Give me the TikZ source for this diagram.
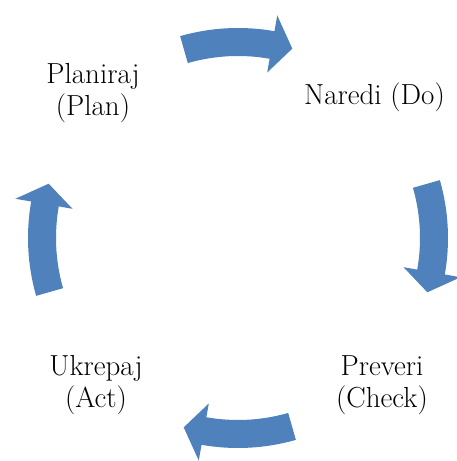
\documentclass[tikz,border=0pt]{standalone}
\definecolor{cycleblue}{RGB}{79,129,189}
\newcommand{\cyclelabelfont}{\fontsize{29}{31}\selectfont}
\begin{document}
\begin{tikzpicture}[x=1pt,y=1pt,
  cyclearrow/.style={fill=cycleblue, draw=none},
  steplabel/.style={font=\cyclelabelfont, inner sep=0pt}]
\useasboundingbox (0,0) rectangle (456,461);
\coordinate (hub) at (238,223);
% curved block arrow: centre angle #1, running clockwise
\newcommand{\cyclearrowat}[1]{%
  \begin{scope}[shift={(hub)}]
    \pgfmathsetmacro{\arrtail}{#1+16}
    \pgfmathsetmacro{\arrneck}{#1-10}
    \pgfmathsetmacro{\arrtip}{#1-16}
    \fill[cyclearrow] (\arrtail:210)
      arc[start angle=\arrtail, end angle=\arrneck, radius=210]
      -- (\arrneck:226) -- (\arrtip:197) -- (\arrneck:168) -- (\arrneck:182)
      arc[start angle=\arrneck, end angle=\arrtail, radius=182] -- cycle;
  \end{scope}}
\cyclearrowat{90}
\cyclearrowat{0}
\cyclearrowat{-90}
\cyclearrowat{180}
\node[steplabel, anchor=base] (plan) at (93,377)
  {\begin{tabular}[t]{@{}c@{}}Planiraj\\(Plan)\end{tabular}};
\node[steplabel, anchor=base west] (do) at (304,356) {Naredi (Do)};
\node[steplabel, anchor=base] (check) at (382,85)
  {\begin{tabular}[t]{@{}c@{}}Preveri\\(Check)\end{tabular}};
\node[steplabel, anchor=base] (act) at (96,85)
  {\begin{tabular}[t]{@{}c@{}}Ukrepaj\\(Act)\end{tabular}};
\end{tikzpicture}
\end{document}
